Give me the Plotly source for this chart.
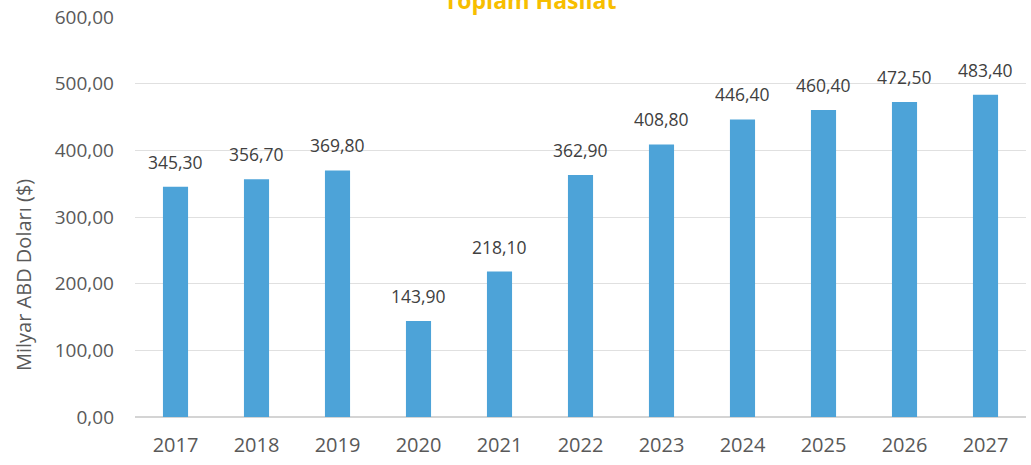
import plotly.graph_objects as go

# Yıllık toplam hasılat (milyar ABD doları)
years = ["2017", "2018", "2019", "2020", "2021", "2022", "2023", "2024", "2025", "2026", "2027"]
revenue = [345.30, 356.70, 369.80, 143.90, 218.10, 362.90, 408.80, 446.40, 460.40, 472.50, 483.40]
y_ticks = [0, 100, 200, 300, 400, 500, 600]


def tr_number(v):
    return f"{v:.2f}".replace(".", ",")


FONT = "Open Sans, Noto Sans, sans-serif"

fig = go.Figure(
    go.Bar(
        x=years,
        y=revenue,
        marker=dict(color="#4DA3D8", line=dict(width=0)),
        hoverinfo="x+y",
    )
)

# Değer etiketleri: her sütunun üstünde, biraz boşlukla
# (kategori eksende x, kategorinin sıra numarasıyla verilir)
value_labels = [
    dict(
        x=i, y=val, xref="x", yref="y",
        text=tr_number(val),
        showarrow=False,
        xanchor="center", yanchor="bottom",
        yshift=11,
        font=dict(family=FONT, size=17.5, color="#404040"),
    )
    for i, val in enumerate(revenue)
]

fig.update_layout(
    width=1031,
    height=465,
    margin=dict(l=135, r=5, t=17, b=48),
    paper_bgcolor="white",
    plot_bgcolor="white",
    bargap=0.69,
    showlegend=False,
    font=dict(family=FONT, color="#595959"),
    annotations=value_labels + [
        dict(
            text="<b>Toplam Hasılat</b>",
            x=0.443, xref="paper",
            y=1.043, yref="paper",
            xanchor="center", yanchor="middle",
            showarrow=False,
            font=dict(family=FONT, size=23, color="#F7BE00"),
        ),
        dict(
            text="Milyar ABD Doları ($)",
            textangle=-90,
            x=0, xref="paper", xshift=-112,
            y=0.355, yref="paper",
            xanchor="center", yanchor="middle",
            showarrow=False,
            font=dict(family=FONT, size=20, color="#595959"),
        ),
    ],
)

fig.update_xaxes(
    type="category",
    categoryorder="array",
    categoryarray=years,
    range=[-0.5, len(years) - 0.5],
    showgrid=False,
    showline=False,
    ticks="",
    ticklabelstandoff=14,
    tickfont=dict(size=20, color="#595959"),
)

fig.update_yaxes(
    range=[0, 600],
    tickvals=y_ticks,
    ticktext=[tr_number(v) for v in y_ticks],
    showgrid=True,
    gridcolor="#E0E0E0",
    gridwidth=1,
    zeroline=True,
    zerolinecolor="#D4D4D4",
    showline=False,
    ticks="",
    ticklabelstandoff=20,
    tickfont=dict(size=19, color="#595959"),
)

fig.write_html("out.html")
